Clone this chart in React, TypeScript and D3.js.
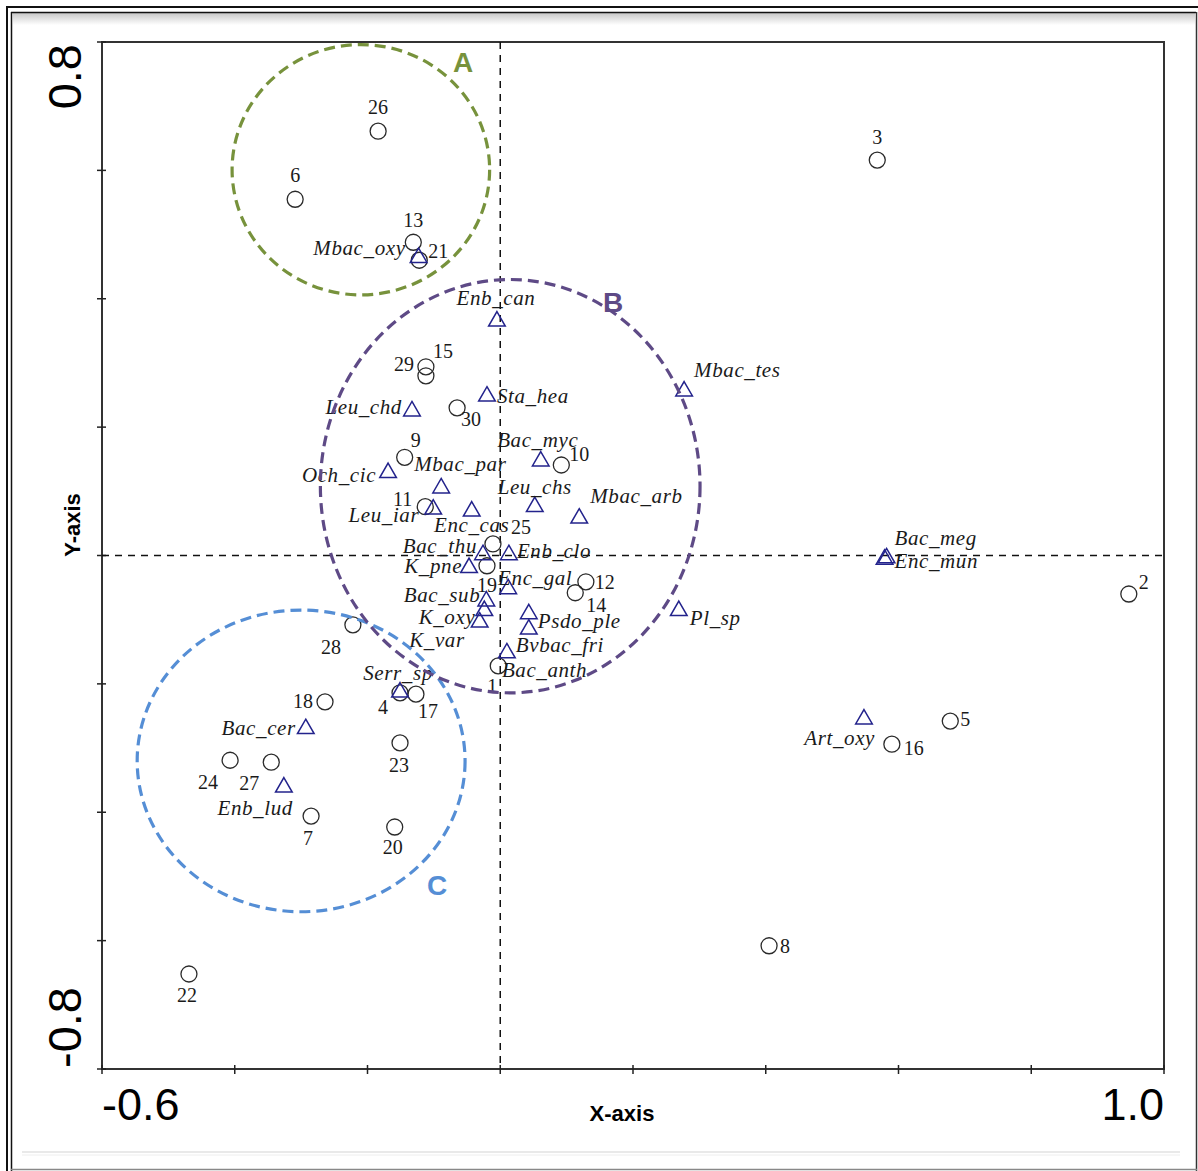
import React from "react";
import * as d3 from "d3";

// Site scores (samples)
const sampleIds = ["1","2","3","4","5","6","7","8","9","10","11","12","13","14","15","16","17","18","19","20","21","22","23","24","25","26","27","28","29","30"];
const sampleX = [-0.003,0.947,0.568,-0.151,0.678,-0.309,-0.285,0.405,-0.144,0.092,-0.113,0.129,-0.131,0.113,-0.112,0.590,-0.127,-0.264,-0.020,-0.159,-0.122,-0.469,-0.151,-0.407,-0.011,-0.184,-0.345,-0.222,-0.112,-0.065];
const sampleY = [-0.172,-0.060,0.616,-0.214,-0.258,0.555,-0.406,-0.608,0.153,0.141,0.076,-0.041,0.488,-0.058,0.294,-0.294,-0.216,-0.228,-0.016,-0.423,0.460,-0.652,-0.292,-0.319,0.018,0.661,-0.322,-0.108,0.280,0.230];

// Species scores
const speciesNames = ["Mbac_oxy","Enb_can","Mbac_tes","Sta_hea","Leu_chd","Bac_myc","Mbac_par","Och_cic","Leu_chs","Mbac_arb","Leu_iar","Enc_cas","Bac_thu","Enb_clo","K_pne","Enc_gal","Bac_sub","K_oxy","K_var","Psdo_ple","Bvbac_fri","Bac_anth","Pl_sp","Bac_meg","Enc_mun","Serr_sp","Bac_cer","Enb_lud","Art_oxy"];
const speciesX = [-0.123,-0.005,0.277,-0.020,-0.133,0.061,-0.089,-0.169,0.052,0.119,-0.101,-0.043,-0.026,0.013,-0.047,0.012,-0.021,-0.024,-0.031,0.043,0.043,0.010,0.269,0.582,0.579,-0.151,-0.293,-0.326,0.548];
const speciesY = [0.464,0.365,0.256,0.248,0.225,0.147,0.105,0.129,0.076,0.058,0.072,0.069,0.001,0.001,-0.019,-0.052,-0.071,-0.086,-0.104,-0.091,-0.115,-0.152,-0.086,-0.004,-0.006,-0.213,-0.270,-0.361,-0.255];

// Axis ticks
const xTicks = [-0.6,-0.4,-0.2,0,0.2,0.4,0.6,0.8,1.0];
const yTicks = [-0.8,-0.6,-0.4,-0.2,0,0.2,0.4,0.6,0.8];
const xEndLabels = ["-0.6","1.0"];
const yEndLabels = ["-0.8","0.8"];

// Group envelopes (data units)
const groupNames = ["A","C","B"];
const groupCX = [-0.210,-0.300,0.015];
const groupCY = [0.601,-0.320,0.108];
const groupRX = [0.194,0.247,0.286];
const groupRY = [0.195,0.235,0.322];

// label placement: [dx, dy, anchor]
type Place = [number, number, "start" | "middle" | "end"];
const samplePlace: Record<string, Place> = {
  "1": [-6, 27, "middle"], "2": [10, -5, "start"], "3": [0, -16, "middle"],
  "4": [-17, 21, "middle"], "5": [10, 5, "start"], "6": [0, -17, "middle"],
  "7": [-3, 29, "middle"], "8": [11, 7, "start"], "9": [6, -10, "start"],
  "10": [8, -4, "start"], "11": [-13, -1, "end"], "12": [9, 7, "start"],
  "13": [0, -15, "middle"], "14": [21, 19, "middle"], "15": [7, -9, "start"],
  "16": [12, 11, "start"], "17": [12, 24, "middle"], "18": [-12, 6, "end"],
  "19": [0, 26, "middle"], "20": [-2, 27, "middle"], "21": [9, -2, "start"],
  "22": [-2, 28, "middle"], "23": [-1, 29, "middle"], "24": [-22, 29, "middle"],
  "25": [18, -10, "start"], "26": [0, -17, "middle"], "27": [-22, 28, "middle"],
  "28": [-22, 29, "middle"], "29": [-12, -5, "end"], "30": [4, 18, "start"],
};
const speciesPlace: Record<string, Place> = {
  Mbac_oxy: [-13, -3, "end"], Enb_can: [-1, -16, "middle"], Mbac_tes: [10, -14, "start"],
  Sta_hea: [10, 7, "start"], Leu_chd: [-10, 3, "end"], Bac_myc: [-3, -14, "middle"],
  Mbac_par: [-27, -17, "start"], Och_cic: [-12, 9, "end"], Leu_chs: [0, -13, "middle"],
  Mbac_arb: [11, -15, "start"], Leu_iar: [-14, 13, "end"], Enc_cas: [0, 21, "middle"],
  Bac_thu: [-6, -2, "end"], Enb_clo: [8, 3, "start"], K_pne: [-7, 5, "end"],
  Enc_gal: [27, -4, "middle"], Bac_sub: [-6, 1, "end"], K_oxy: [-9, 13, "end"],
  K_var: [-15, 25, "end"], Psdo_ple: [9, 14, "start"], Bvbac_fri: [-13, 23, "start"],
  Bac_anth: [-5, 24, "start"], Pl_sp: [11, 14, "start"], Bac_meg: [8, -13, "start"],
  Enc_mun: [10, 9, "start"], Serr_sp: [-2, -12, "middle"], Bac_cer: [-10, 6, "end"],
  Enb_lud: [9, 28, "end"], Art_oxy: [11, 26, "end"],
};
const groupColors: Record<string, string> = { A: "#77923c", B: "#5e4a86", C: "#558ed5" };
const groupLabelPos: Record<string, [number, number]> = { A: [463, 72], B: [613, 312], C: [437, 895] };

const W = 1198;
const H = 1171;
const left = 102, right = 1164, top = 42, bottom = 1069;

export default function App() {
  const x = d3.scaleLinear().domain([-0.6, 1.0]).range([left, right]);
  const y = d3.scaleLinear().domain([-0.8, 0.8]).range([bottom, top]);
  const tri = d3.symbol(d3.symbolTriangle, 120)() as string;
  const serif = "'Liberation Serif', 'Times New Roman', serif";
  const sans = "'Liberation Sans', Arial, sans-serif";

  return (
    <svg width={W} height={H} style={{ position: "absolute", left: 0, top: 0, background: "#fff" }}>
      <defs>
        <linearGradient id="shadeTop" x1="0" y1="0" x2="0" y2="1">
          <stop offset="0" stopColor="#c8c8c8" />
          <stop offset="1" stopColor="#ffffff" />
        </linearGradient>
      </defs>
      <rect x={0} y={0} width={W} height={H} fill="#fff" />
      {/* outer frame */}
      <rect x={13} y={13} width={1182} height={12} fill="url(#shadeTop)" />
      <line x1={7} y1={6} x2={7} y2={H} stroke="#111" strokeWidth={2} />
      <line x1={11.5} y1={12} x2={11.5} y2={H} stroke="#111" strokeWidth={1.5} />
      <line x1={6} y1={7} x2={W} y2={7} stroke="#111" strokeWidth={2} />
      <line x1={11} y1={12.5} x2={1196} y2={12.5} stroke="#111" strokeWidth={1.5} />
      <line x1={1196.5} y1={12} x2={1196.5} y2={H} stroke="#333" strokeWidth={1.5} />
      <line x1={11} y1={1169.5} x2={1197} y2={1169.5} stroke="#888" strokeWidth={1.5} />
      <line x1={22} y1={1152} x2={1180} y2={1152} stroke="#e2e2e2" strokeWidth={1.5} />
      <line x1={22} y1={1155} x2={1180} y2={1155} stroke="#eeeeee" strokeWidth={1} />

      {/* plot box */}
      <rect x={left} y={top} width={right - left} height={bottom - top} fill="none" stroke="#333" strokeWidth={2} />

      {/* ticks */}
      {xTicks.map((t) => (
        <line key={"xt" + t} x1={x(t)} x2={x(t)} y1={bottom - 4} y2={bottom + 5} stroke="#222" strokeWidth={1.5} />
      ))}
      {yTicks.map((t) => (
        <line key={"yt" + t} x1={left - 5} x2={left + 4} y1={y(t)} y2={y(t)} stroke="#222" strokeWidth={1.5} />
      ))}

      {/* zero lines */}
      <line x1={x(0)} x2={x(0)} y1={top} y2={bottom} stroke="#111" strokeWidth={1.5} strokeDasharray="7 6" />
      <line x1={left} x2={right} y1={y(0)} y2={y(0)} stroke="#111" strokeWidth={1.5} strokeDasharray="7 6" />

      {/* tick labels */}
      <text x={x(-0.6)} y={1120} fontFamily={sans} fontSize={45} textAnchor="start" fill="#000">{xEndLabels[0]}</text>
      <text x={x(1.0)} y={1120} fontFamily={sans} fontSize={45} textAnchor="end" fill="#000">{xEndLabels[1]}</text>
      <text transform={`translate(81,${y(0.8) + 2}) rotate(-90)`} fontFamily={sans} fontSize={47} textAnchor="end" fill="#000">{yEndLabels[1]}</text>
      <text transform={`translate(81,${y(-0.8) - 1}) rotate(-90)`} fontFamily={sans} fontSize={47} textAnchor="start" fill="#000">{yEndLabels[0]}</text>

      {/* axis titles */}
      <text x={622} y={1121} fontFamily={sans} fontSize={22} fontWeight="bold" textAnchor="middle" fill="#000">X-axis</text>
      <text transform="translate(80,525) rotate(-90)" fontFamily={sans} fontSize={22} fontWeight="bold" textAnchor="middle" fill="#000">Y-axis</text>

      {/* samples */}
      {sampleIds.map((id, i) => {
        const px = x(sampleX[i]);
        const py = y(sampleY[i]);
        const [dx, dy, anchor] = samplePlace[id];
        return (
          <g key={"s" + id}>
            <circle cx={px} cy={py} r={8} fill="none" stroke="#2a2a2a" strokeWidth={1.3} />
            <text x={px + dx} y={py + dy} fontFamily={serif} fontSize={20} textAnchor={anchor} fill="#1a1a1a">{id}</text>
          </g>
        );
      })}

      {/* species */}
      {speciesNames.map((name, i) => {
        const px = x(speciesX[i]);
        const py = y(speciesY[i]);
        const [dx, dy, anchor] = speciesPlace[name];
        return (
          <g key={"sp" + name}>
            <path d={tri} transform={`translate(${px},${py})`} fill="none" stroke="#23238c" strokeWidth={1.5} />
            <text x={px + dx} y={py + dy} fontFamily={serif} fontStyle="italic" fontSize={21} letterSpacing={0.6} textAnchor={anchor} fill="#1a1a1a">{name}</text>
          </g>
        );
      })}

      {/* group envelopes */}
      {groupNames.map((g, i) => {
        const cx = x(groupCX[i]);
        const cy = y(groupCY[i]);
        const rx = x(groupCX[i] + groupRX[i]) - cx;
        const ry = cy - y(groupCY[i] + groupRY[i]);
        const [lx, ly] = groupLabelPos[g];
        return (
          <g key={"g" + g}>
            <ellipse cx={cx} cy={cy} rx={rx} ry={ry} fill="none" stroke={groupColors[g]} strokeWidth={3.2} strokeDasharray="11 6" />
            <text x={lx} y={ly} fontFamily={sans} fontWeight="bold" fontSize={28} textAnchor="middle" fill={groupColors[g]}>{g}</text>
          </g>
        );
      })}
    </svg>
  );
}
